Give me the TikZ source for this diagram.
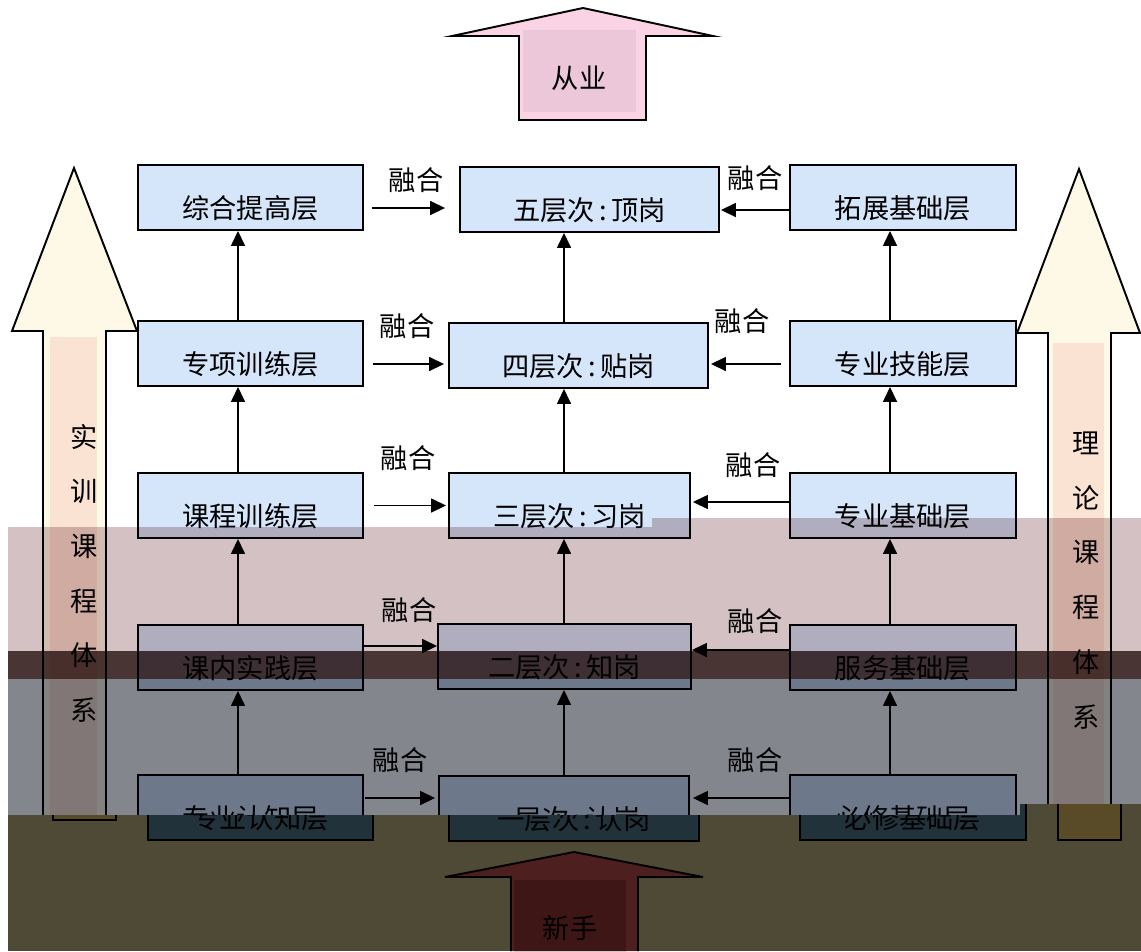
\documentclass[tikz,border=0pt]{standalone}
\usepackage{fontspec}
\setmainfont{Noto Sans CJK SC}
\usetikzlibrary{arrows.meta,calc}
\definecolor{boxblue}{HTML}{D5E5FA}
\definecolor{pinkA}{HTML}{FAD3E4}
\definecolor{pinkB}{HTML}{EBC7D9}
\definecolor{creamA}{HTML}{FEF8E6}
\definecolor{creamB}{HTML}{FBE3D4}
\definecolor{bandA}{HTML}{D3C1C3}
\definecolor{bandB}{HTML}{4A3535}
\definecolor{bandC}{HTML}{84868E}
\definecolor{bandD}{HTML}{4F4A35}
\definecolor{darkbox}{HTML}{22323A}
\definecolor{darkredA}{HTML}{4E1F1F}
\definecolor{darkredB}{HTML}{3F1616}
\definecolor{darkcream}{HTML}{5A4B28}
\begin{document}
\begin{tikzpicture}[x=0.02cm,y=-0.02cm,
  font=\fontsize{15.5}{18}\selectfont,
  layerbox/.style={draw=black, line width=1.1pt, fill=boxblue, inner sep=0pt,
    minimum height=1.3cm, text height=0.93cm, text depth=0.1cm},
  conn/.style={line width=0.9pt, -{Triangle[length=0.3cm,width=0.28cm]}},
  fuse/.style={inner sep=0pt},
  bigarrow/.style={draw=black, line width=1.1pt},
  vchar/.style={inner sep=0pt}]
\useasboundingbox (0,0) rectangle (1141,951);

% ---- big arrows ----
\draw[bigarrow, fill=pinkA] (583,8) -- (713,36) -- (646,36) -- (646,120) -- (519,120) -- (519,36) -- (452,36) -- cycle;
\fill[pinkB] (523,30) rectangle (636,112);
\node[fuse] (top) at (579,78) {从业};

\draw[bigarrow, fill=creamA] (74,168) -- (137,331) -- (106,331) -- (106,820) -- (43,820) -- (43,331) -- (12,331) -- cycle;
\fill[creamB] (50,337) rectangle (97,815);
\draw[bigarrow, fill=creamA] (1079,169) -- (1140,333) -- (1111,333) -- (1111,840) -- (1048,840) -- (1048,333) -- (1017,333) -- cycle;
\fill[creamB] (1053,343) rectangle (1104,835);

\foreach \c [count=\i] in {实,训,课,程,体,系}
  \node[vchar] (lv\i) at (84,{437+54.6*(\i-1)}) {\c};
\foreach \c [count=\i] in {理,论,课,程,体,系}
  \node[vchar] (rv\i) at (1086,{443+54.8*(\i-1)}) {\c};

% ---- layer boxes ----
\node[layerbox, minimum width=4.5cm] (L5) at (250.5,197.5) {综合提高层};
\node[layerbox, minimum width=4.5cm] (L4) at (250.5,353.5) {专项训练层};
\node[layerbox, minimum width=4.5cm] (L3) at (250.5,505.5) {课程训练层};
\node[layerbox, minimum width=4.5cm] (L2) at (250.5,657.5) {课内实践层};
\node[layerbox, minimum width=4.5cm] (L1) at (250.5,807.5) {专业认知层};

\node[layerbox, minimum width=5.18cm] (M5) at (589.5,199.5) {五层次\,:\,顶岗};
\node[layerbox, minimum width=5.18cm] (M4) at (578.5,355.5) {四层次\,:\,贴岗};
\node[layerbox, minimum width=4.82cm] (M3) at (569.5,505.5) {三层次\,:\,习岗};
\node[layerbox, minimum width=5.06cm] (M2) at (564.5,656.5) {二层次\,:\,知岗};
\node[layerbox, minimum width=5.0cm]  (M1) at (564,808.5) {一层次\,:\,认岗};

\node[layerbox, minimum width=4.52cm] (R5) at (903,197.5) {拓展基础层};
\node[layerbox, minimum width=4.52cm] (R4) at (903,353.5) {专业技能层};
\node[layerbox, minimum width=4.52cm] (R3) at (903,505.5) {专业基础层};
\node[layerbox, minimum width=4.52cm] (R2) at (903,657.5) {服务基础层};
\node[layerbox, minimum width=4.52cm] (R1) at (903,807.5) {必修基础层};

% ---- vertical connectors ----
\coordinate (cl) at (238,0);
\coordinate (cm) at (564,0);
\coordinate (cr) at (890,0);
\foreach \a/\b in {1/2,2/3,3/4,4/5}{
  \draw[conn] (L\a.north -| cl) -- (L\b.south -| cl);
  \draw[conn] (M\a.north -| cm) -- (M\b.south -| cm);
  \draw[conn] (R\a.north -| cr) -- (R\b.south -| cr);
}

% ---- horizontal connectors ----
\coordinate (a5) at ($(L5.east)+(8,10.5)$);
\draw[conn, shorten >=0.28cm] (a5) -- (a5 -| M5.west);
\coordinate (b5) at ($(R5.west)+(0,12.5)$);
\draw[conn, shorten >=0.02cm] (b5) -- (b5 -| M5.east);

\coordinate (a4) at ($(L4.east)+(9,10.5)$);
\draw[conn, shorten >=0.08cm] (a4) -- (a4 -| M4.west);
\coordinate (b4) at ($(R4.west)+(-8,10.5)$);
\draw[conn, shorten >=0.04cm] (b4) -- (b4 -| M4.east);

\coordinate (a3) at ($(L3.east)+(10,0)$);
\draw[conn, shorten >=0.04cm] (a3) -- (a3 -| M3.west);
\coordinate (b3) at ($(R3.west)+(0,-3.5)$);
\draw[conn, shorten >=0.04cm] (b3) -- (b3 -| M3.east);

\coordinate (a2) at ($(L2.east)+(0,-11.5)$);
\draw[conn] (a2) -- (a2 -| M2.west);
\coordinate (b2) at ($(R2.west)+(0,-7.5)$);
\draw[conn] (b2) -- (b2 -| M2.east);

\coordinate (a1) at ($(L1.east)+(1,-9.5)$);
\draw[conn, shorten >=0.06cm] (a1) -- (a1 -| M1.west);
\coordinate (b1) at ($(R1.west)+(0,-9.5)$);
\draw[conn, shorten >=0.06cm] (b1) -- (b1 -| M1.east);

% ---- fusion labels ----
\node[fuse] (f5l) at (416,180) {融合};
\node[fuse] (f5r) at (755,178) {融合};
\node[fuse] (f4l) at (407,326) {融合};
\node[fuse] (f4r) at (742,321) {融合};
\node[fuse] (f3l) at (408,458) {融合};
\node[fuse] (f3r) at (753,465) {融合};
\node[fuse] (f2l) at (409,610) {融合};
\node[fuse] (f2r) at (755,621) {融合};
\node[fuse] (f1l) at (400,760) {融合};
\node[fuse] (f1r) at (755,760) {融合};

% ---- tinted bands ----
\begin{scope}[blend mode=multiply]
\fill[bandA] (8,527) -- (652,527) -- (652,518) -- (1141,518) -- (1141,651) -- (8,651) -- cycle;
\fill[bandB] (8,651) rectangle (1141,679);
\fill[bandC] (8,679) -- (1141,679) -- (1141,804) -- (1020,804) -- (1020,815) -- (8,815) -- cycle;
\end{scope}

% ---- dark bottom band with its shifted content ----
\begin{scope}
\clip (8,815) -- (1020,815) -- (1020,804) -- (1141,804) -- (1141,951) -- (8,951) -- cycle;
\fill[bandD] (0,780) rectangle (1141,951);
\draw[bigarrow, fill=darkcream] (53,700) rectangle (116,820);
\draw[bigarrow, fill=darkcream] (1058,700) rectangle (1121,840);
\begin{scope}[xshift=0.2cm]
\node[layerbox, fill=darkbox, minimum width=4.5cm] (L1s) at (250.5,807.5) {专业认知层};
\node[layerbox, fill=darkbox, minimum width=5.0cm] (M1s) at (564,808.5) {一层次\,:\,认岗};
\node[layerbox, fill=darkbox, minimum width=4.52cm] (R1s) at (903,807.5) {必修基础层};
\end{scope}
\draw[bigarrow, fill=darkredA] (574,852) -- (703,877) -- (638,877) -- (638,953) -- (511,953) -- (511,877) -- (445,877) -- cycle;
\fill[darkredB] (514,880) rectangle (626,953);
\node[fuse] (bottom) at (570,928) {新手};
\end{scope}
\end{tikzpicture}
\end{document}
